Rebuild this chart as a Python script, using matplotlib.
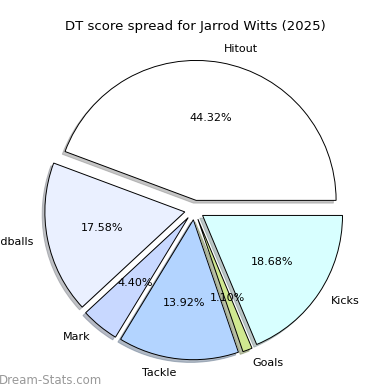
import matplotlib
matplotlib.use('Agg')
import matplotlib.pyplot as plt

# DT points per category
labels = ['Hitout', 'Handballs', 'Mark', 'Tackle', 'Goals', 'Kicks']
points = [121, 48, 12, 38, 3, 51]
colors = ['#ffffff', '#eaf0ff', '#c8d8ff', '#b3d4ff', '#d0e890', '#d8ffff']
explode = [0.07] * len(points)

fig = plt.figure(figsize=(3.9, 3.9), dpi=100)
ax = fig.add_axes([0.05, 0.013, 0.897, 0.897])
ax.pie(points, labels=labels, colors=colors, explode=explode,
       autopct='%1.2f%%', startangle=0,
       shadow={'ox': -0.014, 'oy': -0.014, 'shade': 0.45},
       wedgeprops={'edgecolor': 'black', 'linewidth': 0.7},
       textprops={'fontsize': 8})
ax.set_aspect('equal')

fig.text(0.5, 0.933, 'DT score spread for Jarrod Witts (2025)',
         ha='center', va='center', fontsize=9.5)
fig.text(0.263, 0.025, 'Dream-Stats.com', ha='right', va='center',
         fontsize=8.5, color='#999999')

fig.savefig('out.png', dpi=100)
